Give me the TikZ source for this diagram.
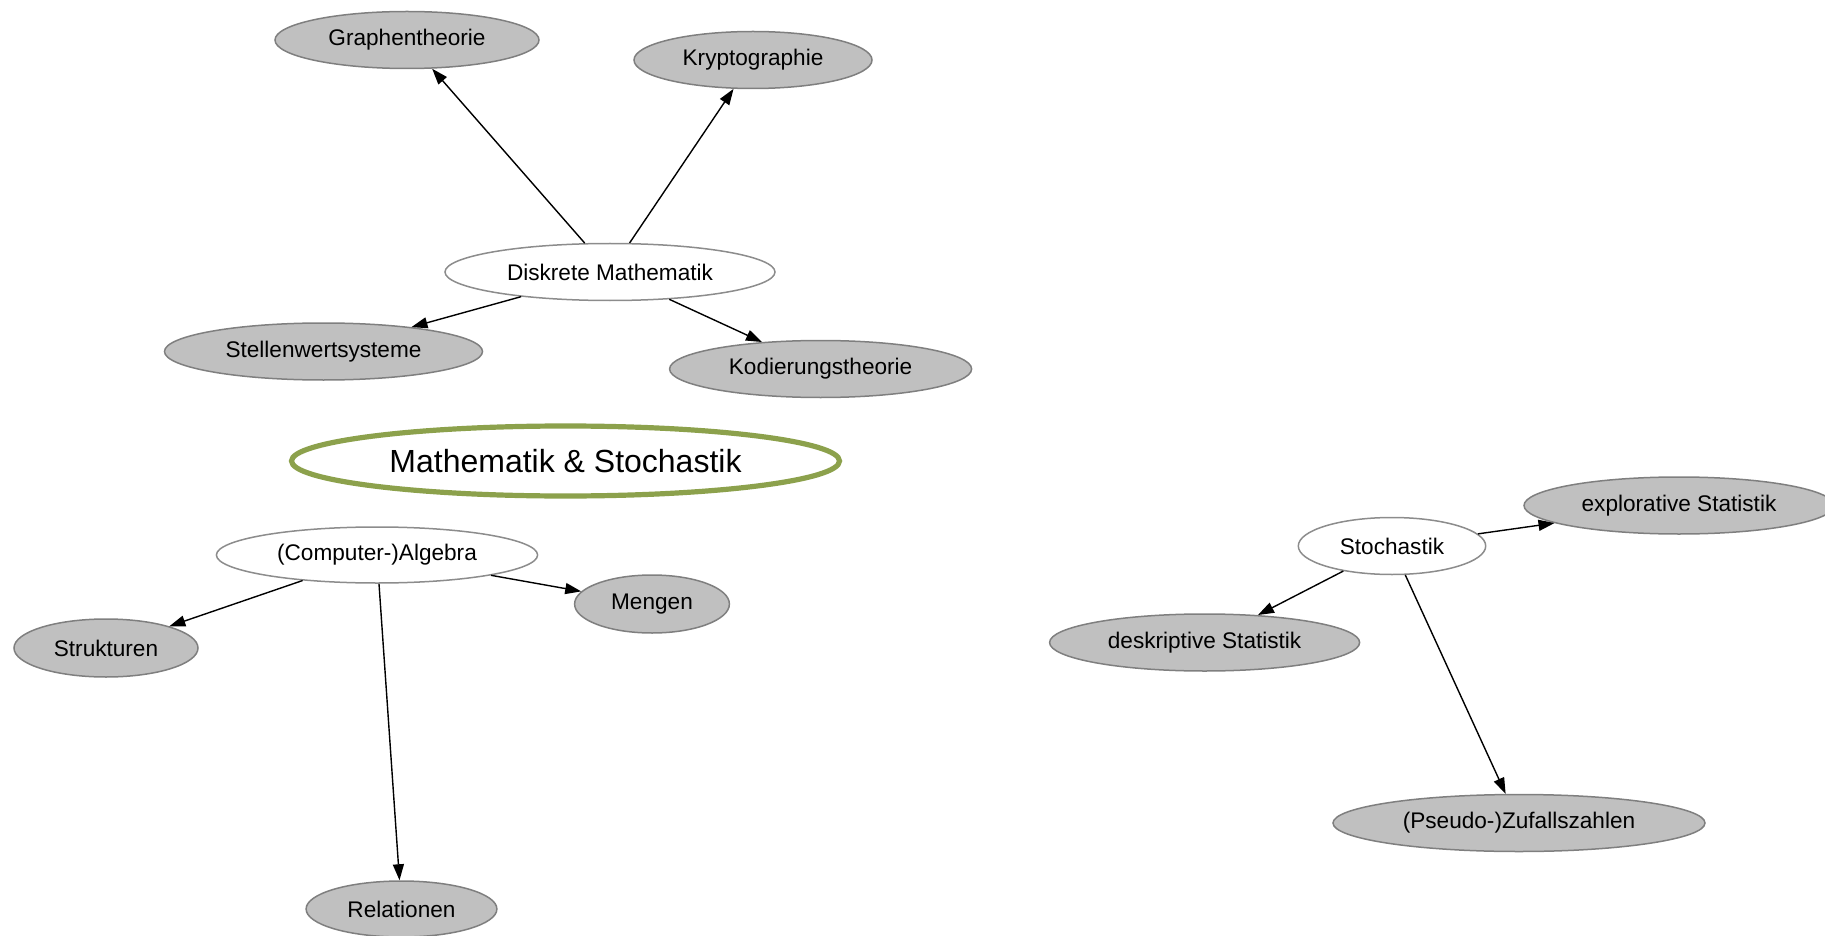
\documentclass[tikz,border=0pt]{standalone}
\usepackage{fontspec}
\setmainfont{Liberation Sans}
\usetikzlibrary{shapes.geometric,arrows.meta}
\definecolor{leaf}{HTML}{C0C0C0}
\definecolor{leafline}{HTML}{7F7F7F}
\definecolor{hubline}{HTML}{8C8C8C}
\definecolor{rootline}{HTML}{8CA14C}
\tikzset{
  topic/.style={ellipse, inner sep=0pt, line width=0.75pt, font=\fontsize{11.3}{13}\selectfont},
  leafnode/.style={topic, draw=leafline, fill=leaf},
  hubnode/.style={topic, draw=hubline, fill=white},
  rootnode/.style={ellipse, inner sep=0pt, draw=rootline, line width=2.6pt, fill=white,
    font=\fontsize{16}{19}\selectfont},
  link/.style={draw=black, line width=0.7pt, -{Triangle[length=8pt,width=5.5pt]}}
}
\begin{document}
\begin{tikzpicture}[x=0.5pt,y=-0.5pt]
\useasboundingbox (0,0) rectangle (1825,936);

% root
\node[rootnode, minimum width=274pt, minimum height=35pt] (root) at (565.5,461) {Mathematik \& Stochastik};

% discrete mathematics cluster
\node[hubnode, minimum width=165pt, minimum height=28.5pt] (dm) at (610,272) {Diskrete Mathematik};
\node[leafnode, minimum width=132pt, minimum height=28.5pt] (graph) at (407,40) {Graphentheorie};
\node[leafnode, minimum width=119pt, minimum height=28.5pt] (krypto) at (753,60) {Kryptographie};
\node[leafnode, minimum width=159pt, minimum height=28.5pt] (stellen) at (323.5,351.5) {Stellenwertsysteme};
\node[leafnode, minimum width=151pt, minimum height=28.5pt] (kodier) at (820.6,369) {Kodierungstheorie};

% algebra cluster
\node[hubnode, minimum width=160.6pt, minimum height=28pt] (alg) at (377,555) {(Computer-)Algebra};
\node[leafnode, minimum width=77.4pt, minimum height=29pt] (mengen) at (652,604) {Mengen};
\node[leafnode, minimum width=92pt, minimum height=29pt] (struk) at (106,648) {Strukturen};
\node[leafnode, minimum width=95.4pt, minimum height=28pt] (rel) at (401.5,909) {Relationen};

% stochastics cluster
\node[hubnode, minimum width=93.7pt, minimum height=28.5pt] (sto) at (1392,546) {Stochastik};
\node[leafnode, minimum width=155pt, minimum height=28.5pt] (expl) at (1679,505.5) {explorative Statistik};
\node[leafnode, minimum width=155pt, minimum height=28.5pt] (desk) at (1204.6,642.5) {deskriptive Statistik};
\node[leafnode, minimum width=186pt, minimum height=28.5pt] (zuf) at (1519,823) {(Pseudo-)Zufallszahlen};

% connectors
\draw[link] (dm) -- (graph);
\draw[link] (dm) -- (krypto);
\draw[link] (dm) -- (stellen);
\draw[link] (dm) -- (kodier);
\draw[link] (alg) -- (struk);
\draw[link] (alg) -- (mengen);
\draw[link] (alg) -- (rel);
\draw[link] (sto) -- (expl);
\draw[link] (sto) -- (desk);
\draw[link] (sto) -- (zuf);
\end{tikzpicture}
\end{document}
